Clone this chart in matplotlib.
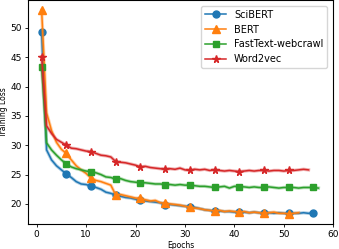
import matplotlib
matplotlib.use("Agg")
import matplotlib.pyplot as plt

scibert_epochs = list(range(1, 57))
scibert = [49.2, 29.2, 27.5, 26.5, 25.8, 25.1, 24.5, 23.8, 23.4, 23.3,
           23.0, 22.8, 22.5, 22.0, 21.8, 21.5, 21.3, 21.1, 21.0, 20.8,
           20.6, 20.5, 20.4, 20.3, 20.2, 19.9, 19.9, 19.8, 19.7, 19.6,
           19.55, 19.4, 19.2, 19.0, 18.9, 18.75, 18.8, 18.7, 18.7, 18.6,
           18.6, 18.6, 18.5, 18.6, 18.5, 18.5, 18.5, 18.4, 18.5, 18.4,
           18.4, 18.4, 18.4, 18.5, 18.4, 18.5]

bert_epochs = list(range(1, 54))
bert = [53.0, 35.5, 32.5, 30.5, 29.3, 28.6, 27.5, 26.5, 25.8, 25.2,
        24.4, 24.0, 23.8, 23.5, 23.2, 21.5, 21.6, 21.4, 21.2, 21.0,
        20.95, 20.7, 20.5, 20.6, 20.2, 20.1, 20.0, 19.9, 19.8, 19.6,
        19.4, 19.3, 19.2, 19.0, 18.9, 18.8, 18.9, 18.7, 18.8, 18.7,
        18.6, 18.7, 18.5, 18.6, 18.5, 18.4, 18.5, 18.6, 18.4, 18.4,
        18.3, 18.4, 18.5]

fasttext_epochs = list(range(1, 58))
fasttext = [43.4, 30.4, 29.2, 28.3, 27.5, 26.8, 26.3, 26.0, 25.8, 25.6,
            25.5, 25.3, 25.0, 24.6, 24.5, 24.2, 24.3, 24.0, 23.8, 23.7,
            23.6, 23.6, 23.5, 23.4, 23.4, 23.3, 23.3, 23.2, 23.3, 23.2,
            23.2, 23.1, 23.0, 23.0, 22.9, 22.8, 22.9, 23.0, 22.7, 23.0,
            22.95, 22.9, 22.8, 22.9, 22.8, 22.8, 22.9, 22.8, 22.7, 22.8,
            22.8, 22.8, 22.7, 22.8, 22.8, 22.8, 22.7]

word2vec_epochs = list(range(1, 56))
word2vec = [45.1, 33.3, 32.0, 31.0, 30.5, 30.0, 29.5, 29.4, 29.2, 29.0,
            28.9, 28.6, 28.3, 28.2, 28.0, 27.2, 27.1, 27.0, 26.8, 26.6,
            26.3, 26.4, 26.2, 26.1, 26.0, 25.9, 26.0, 25.9, 26.1, 25.8,
            25.7, 25.9, 25.8, 25.9, 25.7, 25.8, 25.7, 25.6, 25.7, 25.6,
            25.5, 25.6, 25.7, 25.6, 25.7, 25.7, 25.6, 25.7, 25.7, 25.6,
            25.7, 25.7, 25.8, 25.9, 25.8]

series = [
    ("SciBERT", scibert_epochs, scibert, "#1f77b4", "o", 5),
    ("BERT", bert_epochs, bert, "#ff7f0e", "^", 5.5),
    ("FastText-webcrawl", fasttext_epochs, fasttext, "#2ca02c", "s", 5),
    ("Word2vec", word2vec_epochs, word2vec, "#d62728", "*", 5.5),
]

fig, ax = plt.subplots(figsize=(3.39, 2.49), dpi=100)
for name, xs, ys, c, m, ms in series:
    ax.plot(xs, ys, color=c, lw=2.4, alpha=0.35)
    ax.plot(xs, ys, color=c, lw=1.1, marker=m, markevery=5, ms=ms, label=name)

ax.set_xlabel("Epochs", fontsize=5.5, labelpad=1.5)
ax.set_ylabel("Training Loss", fontsize=5.5, labelpad=1.5)
ax.tick_params(labelsize=6.5, length=2.5, width=0.6, pad=2)
for s in ax.spines.values():
    s.set_linewidth(0.8)
ax.set_xticks([0, 10, 20, 30, 40, 50, 60])
ax.legend(loc="upper right", fontsize=7, handlelength=2.2, borderaxespad=0.6)
fig.subplots_adjust(left=0.082, right=0.983, bottom=0.1, top=1.0)
fig.savefig("out.png", dpi=100)
